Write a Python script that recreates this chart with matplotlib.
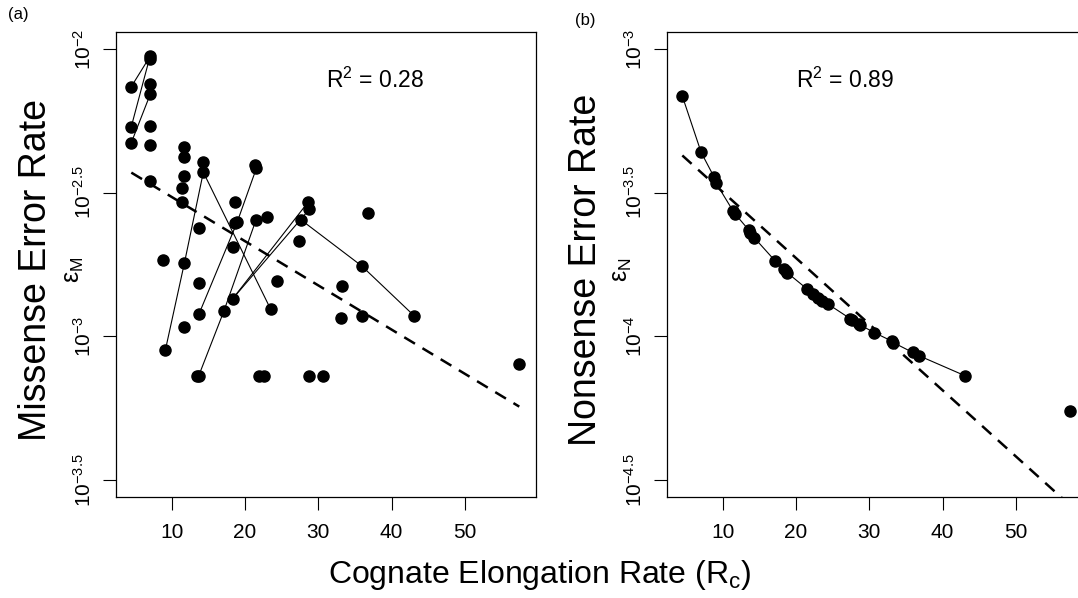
import numpy as np
import matplotlib.pyplot as plt

plt.rcParams['font.family'] = ['Liberation Sans', 'DejaVu Sans']
plt.rcParams['mathtext.fontset'] = 'custom'
plt.rcParams['mathtext.rm'] = 'Liberation Sans'
plt.rcParams['mathtext.it'] = 'Liberation Sans'
plt.rcParams['mathtext.bf'] = 'Liberation Sans:bold'

# (a) missense: cognate elongation rate vs log10 error rate
mis_rate = [4.50, 7.05, 7.05, 7.09, 7.09, 4.50, 7.09, 4.50, 7.09, 7.09,
            11.73, 11.73, 11.73, 11.45, 11.45, 14.32, 14.32, 18.64, 21.43, 21.57,
            28.64, 28.77, 18.64, 18.96, 21.50, 22.96, 13.77, 27.61, 27.37, 18.33,
            8.86, 11.73, 13.77, 24.33, 33.30, 18.33, 13.73, 17.14, 23.51, 33.03,
            11.73, 9.14, 13.45, 13.68, 21.96, 22.60, 28.73, 30.68, 36.74, 35.92,
            35.92, 43.05, 57.41]
mis_log_err = [-2.131, -2.026, -2.035, -2.122, -2.157, -2.270, -2.267, -2.326, -2.335, -2.458,
               -2.342, -2.376, -2.442, -2.483, -2.531, -2.392, -2.429, -2.531, -2.405, -2.414,
               -2.532, -2.558, -2.607, -2.601, -2.595, -2.584, -2.622, -2.594, -2.667, -2.688,
               -2.734, -2.746, -2.813, -2.808, -2.826, -2.869, -2.922, -2.911, -2.906, -2.936,
               -2.969, -3.048, -3.138, -3.138, -3.138, -3.138, -3.139, -3.139, -2.572, -2.755,
               -2.930, -2.928, -3.097]
# points joined by thin lines (indices into the arrays above)
mis_links = [(0, 1), (5, 1), (7, 4), (41, 31, 16), (16, 38), (36, 23, 19),
             (43, 37, 24), (35, 20), (35, 21), (27, 49, 51)]
mis_fit = (-2.361, -0.01539)  # intercept, slope
mis_r2 = '0.28'

# (b) nonsense
non_rate = [4.50, 7.07, 8.86, 9.14, 11.45, 11.73, 13.56, 13.77, 14.32, 17.14,
            18.33, 18.64, 18.78, 21.50, 22.28, 22.96, 23.51, 24.33, 27.37, 27.61,
            28.64, 28.73, 30.68, 33.03, 33.30, 35.92, 36.74, 43.05, 57.41]
non_log_err = [-3.164, -3.360, -3.447, -3.468, -3.565, -3.575, -3.630, -3.640, -3.657, -3.737,
               -3.765, -3.772, -3.778, -3.835, -3.853, -3.866, -3.876, -3.887, -3.938, -3.944,
               -3.956, -3.960, -3.987, -4.016, -4.022, -4.056, -4.067, -4.137, -4.260]
non_fit = (-3.267, -0.02302)
non_r2 = '0.89'

W, H = 1078, 598
fig = plt.figure(figsize=(W / 100, H / 100), dpi=100)


def px_box(x0, y0, x1, y1):
    return [x0 / W, 1 - y1 / H, (x1 - x0) / W, (y1 - y0) / H]


def style_axes(ax, yticks):
    ax.set_xlim(2.41, 59.69)
    ax.set_ylim(yticks[0] - 0.059, yticks[-1] + 0.059)
    ax.set_xticks([10, 20, 30, 40, 50])
    ax.set_yticks(yticks)
    ax.set_yticklabels([r'$10^{%g}$' % t for t in yticks], rotation=90, va='center')
    for s in ax.spines.values():
        s.set_linewidth(0.9)
    ax.tick_params(direction='out', length=9.5, width=0.8, labelsize=15)
    ax.tick_params(axis='x', pad=9)
    ax.tick_params(axis='y', pad=6)


def draw_fit(ax, rate, fit):
    xs = np.array([min(rate), max(rate)])
    ax.plot(xs, fit[0] + fit[1] * xs, color='black', lw=1.8,
            dashes=(5, 3.5), zorder=2)


ax1 = fig.add_axes(px_box(116, 32, 536, 497))
for link in mis_links:
    ax1.plot([mis_rate[i] for i in link], [mis_log_err[i] for i in link],
             color='black', lw=0.8, zorder=1)
ax1.plot(mis_rate, mis_log_err, 'o', color='black', ms=8, zorder=3)
draw_fit(ax1, mis_rate, mis_fit)
style_axes(ax1, [-3.5, -3.0, -2.5, -2.0])
ax1.text(0.617, 0.897, r'R$^2$ = ' + mis_r2, transform=ax1.transAxes,
         ha='center', va='center', fontsize=16.5)

ax2 = fig.add_axes(px_box(667, 32, 1087, 497))
ax2.plot(non_rate[:-1], non_log_err[:-1], color='black', lw=0.8, zorder=1)
ax2.plot(non_rate, non_log_err, 'o', color='black', ms=8, zorder=3)
draw_fit(ax2, non_rate, non_fit)
style_axes(ax2, [-4.5, -4.0, -3.5, -3.0])
ax2.text(0.424, 0.897, r'R$^2$ = ' + non_r2, transform=ax2.transAxes,
         ha='center', va='center', fontsize=16.5)

yc = 1 - 270 / H
fig.text(36 / W, yc, 'Missense Error Rate', rotation=90, ha='center', va='center', fontsize=27)
fig.text(74 / W, yc, r'$\varepsilon_\mathrm{M}$', rotation=90, ha='center', va='center', fontsize=18)
fig.text(586 / W, yc, 'Nonsense Error Rate', rotation=90, ha='center', va='center', fontsize=27)
fig.text(622 / W, yc, r'$\varepsilon_\mathrm{N}$', rotation=90, ha='center', va='center', fontsize=18)
fig.text(540 / W, 1 - 575 / H, r'Cognate Elongation Rate (R$_\mathrm{c}$)',
         ha='center', va='center', fontsize=23)
fig.text(18 / W, 1 - 15 / H, '(a)', ha='center', va='center', fontsize=12)
fig.text(585 / W, 1 - 20 / H, '(b)', ha='center', va='center', fontsize=12)

fig.savefig('out.png', dpi=100)
